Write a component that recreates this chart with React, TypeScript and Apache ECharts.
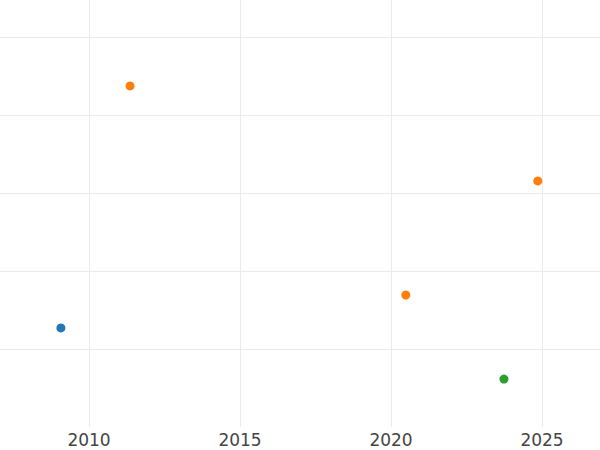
import React, { useEffect, useRef } from "react";
import * as echarts from "echarts";

const xTicks = [2010, 2015, 2020, 2025];
const blueX = [2009.07];
const blueY = [1.27];
const orangeX = [2011.36, 2024.86, 2020.49];
const orangeY = [4.372, 3.154, 1.692];
const greenX = [2023.74];
const greenY = [0.615];

const X_MIN = 2007.053;
const X_MAX = 2026.92;
const Y_MIN = 0;
const Y_MAX = 5.474;

function pairs(xs: number[], ys: number[]) {
  return xs.map((x, i) => [x, ys[i]]);
}

export default function App() {
  const ref = useRef<HTMLDivElement>(null);
  useEffect(() => {
    if (!ref.current) return;
    const chart = echarts.init(ref.current, undefined, { renderer: "svg" });
    const gridLine = { show: true, showMinLine: false, showMaxLine: false, lineStyle: { color: "#ebebeb", width: 1 } };
    chart.setOption({
      animation: false,
      backgroundColor: "#ffffff",
      grid: { left: 0, right: 0, top: 0, bottom: 23, containLabel: false },
      xAxis: {
        type: "value",
        min: X_MIN,
        max: X_MAX,
        minInterval: 5,
        maxInterval: 5,
        splitNumber: 4,
        axisLine: { show: false },
        axisTick: { show: false },
        axisLabel: {
          show: true,
          showMinLabel: false,
          showMaxLabel: false,
          margin: 4,
          fontSize: 17,
          fontFamily: "DejaVu Sans",
          color: "#444444",
          formatter: (v: number) => (xTicks.includes(Math.round(v)) && Math.abs(v - Math.round(v)) < 1e-6 ? String(Math.round(v)) : ""),
        },
        splitLine: gridLine,
      },
      yAxis: {
        type: "value",
        min: Y_MIN,
        max: Y_MAX,
        minInterval: 1,
        maxInterval: 1,
        axisLine: { show: false },
        axisTick: { show: false },
        axisLabel: { show: false },
        splitLine: gridLine,
      },
      series: [
        { type: "scatter", name: "blue", data: pairs(blueX, blueY), symbolSize: 9, itemStyle: { color: "#1f77b4", opacity: 1 } },
        { type: "scatter", name: "orange", data: pairs(orangeX, orangeY), symbolSize: 9, itemStyle: { color: "#ff7f0e", opacity: 1 } },
        { type: "scatter", name: "green", data: pairs(greenX, greenY), symbolSize: 9, itemStyle: { color: "#2ca02c", opacity: 1 } },
      ],
    });
    return () => chart.dispose();
  }, []);
  return <div ref={ref} style={{ position: "fixed", left: 0, top: 0, width: 600, height: 450 }} />;
}
